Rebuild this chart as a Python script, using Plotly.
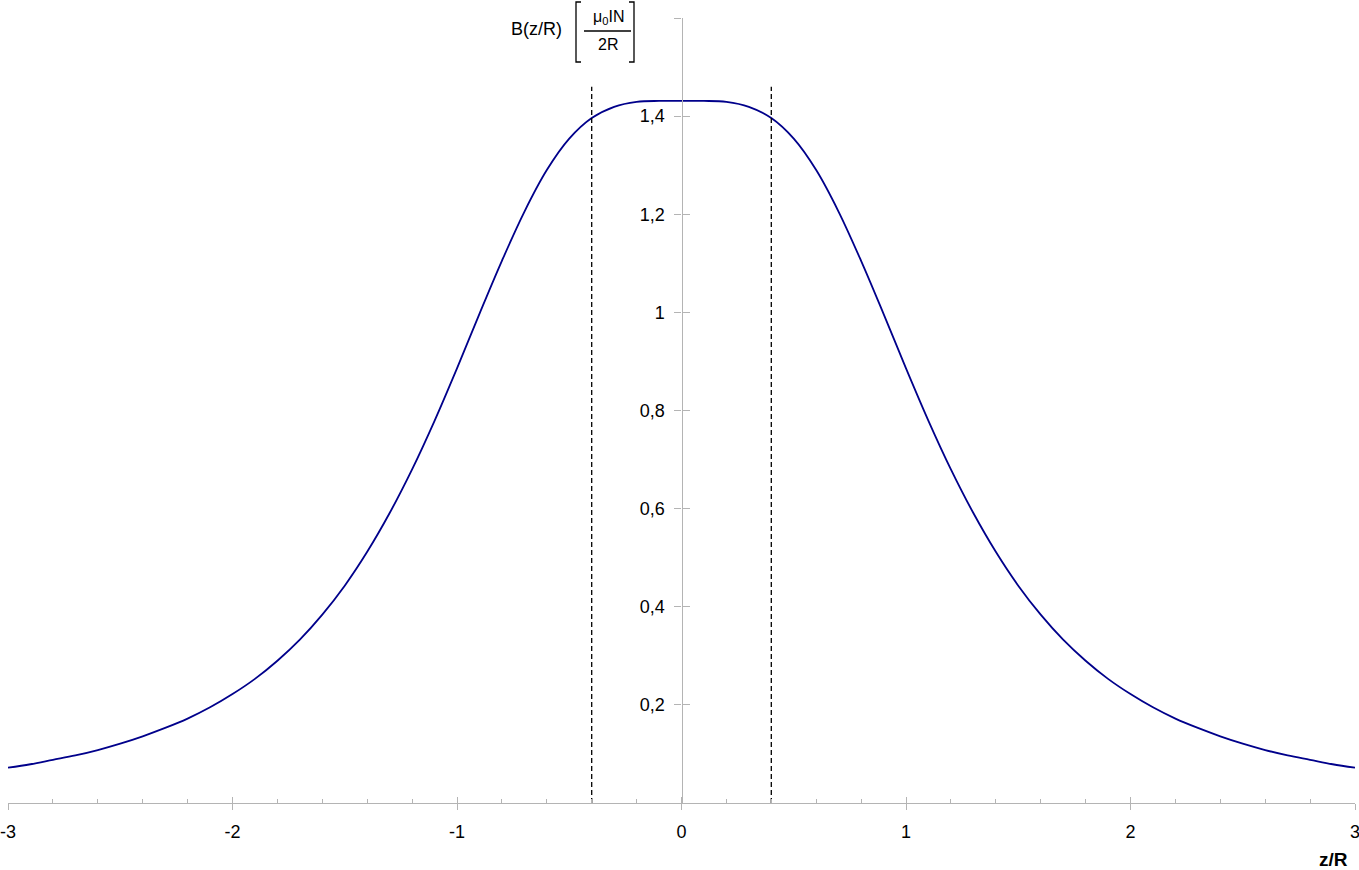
import plotly.graph_objects as go

# Data
z_vals = [round(-3 + 0.1 * i, 1) for i in range(61)]
b_vals = [
    0.072, 0.079, 0.088, 0.097, 0.108, 0.121, 0.136, 0.153, 0.172, 0.195,
    0.222, 0.253, 0.290, 0.333, 0.384, 0.443, 0.512, 0.591, 0.680, 0.779,
    0.886, 0.997, 1.105, 1.205, 1.290, 1.354, 1.396, 1.419, 1.429, 1.431,
    1.431,
    1.431, 1.429, 1.419, 1.396, 1.354, 1.290, 1.205, 1.105, 0.997, 0.886,
    0.779, 0.680, 0.591, 0.512, 0.443, 0.384, 0.333, 0.290, 0.253, 0.222,
    0.195, 0.172, 0.153, 0.136, 0.121, 0.108, 0.097, 0.088, 0.079, 0.072,
]
coil_positions = [-0.4, 0.4]
dash_top = 1.46

x_ticks = [-3, -2, -1, 0, 1, 2, 3]
x_ticktext = ["-3", "-2", "-1", "0", "1", "2", "3"]
y_ticks = [0.2, 0.4, 0.6, 0.8, 1.0, 1.2, 1.4, 1.6]
y_ticktext = ["0,2", "0,4", "0,6", "0,8", "1", "1,2", "1,4", ""]

AXIS_GRAY = "#b4b4b4"
CURVE = "#00008b"
FONT = "Liberation Sans, Arial, sans-serif"

fig = go.Figure()

fig.add_trace(go.Scatter(
    x=z_vals, y=b_vals, mode="lines",
    line=dict(color=CURVE, width=1.8, shape="spline", smoothing=1.0),
    showlegend=False, hoverinfo="skip",
))

for zc in coil_positions:
    fig.add_trace(go.Scatter(
        x=[zc, zc], y=[0, dash_top], mode="lines",
        line=dict(color="black", width=1.3, dash="5px,3px"),
        showlegend=False, hoverinfo="skip",
    ))

# invisible trace to create overlay axes (for ticks crossing the axis lines)
fig.add_trace(go.Scatter(x=[0], y=[0], xaxis="x2", yaxis="y2", mode="markers",
                         marker=dict(opacity=0), showlegend=False, hoverinfo="skip"))

tickfont = dict(family=FONT, size=18, color="black")

fig.update_layout(
    template="none",
    width=1359, height=870,
    margin=dict(l=8, r=4, t=18, b=67, autoexpand=False),
    paper_bgcolor="white", plot_bgcolor="white",
    font=dict(family=FONT, color="black"),
    separators=",.",
    xaxis=dict(
        range=[-3, 3], tickvals=x_ticks, ticktext=x_ticktext,
        showline=True, linecolor=AXIS_GRAY, linewidth=1.3,
        ticks="outside", ticklen=6, tickcolor=AXIS_GRAY, tickwidth=1,
        showgrid=False, zeroline=False, tickfont=tickfont,
        ticklabelstandoff=6, ticklabeloverflow="allow", automargin=False,
    ),
    xaxis2=dict(
        range=[-3, 3], overlaying="x", anchor="y", side="bottom",
        tickvals=x_ticks, showticklabels=False,
        ticks="inside", ticklen=6, tickcolor=AXIS_GRAY, tickwidth=1,
        minor=dict(dtick=0.2, tick0=0, ticks="inside", ticklen=4,
                   tickcolor=AXIS_GRAY, tickwidth=1, showgrid=False),
        showline=False, showgrid=False, zeroline=False, automargin=False,
    ),
    yaxis=dict(
        range=[0, 1.6], tickvals=y_ticks, ticktext=y_ticktext,
        anchor="free", position=0.5, side="left",
        showline=True, linecolor=AXIS_GRAY, linewidth=1.3,
        ticks="outside", ticklen=7, tickcolor=AXIS_GRAY, tickwidth=1,
        showgrid=False, zeroline=False, tickfont=tickfont,
        ticklabelstandoff=6, automargin=False,
    ),
    yaxis2=dict(
        range=[0, 1.6], overlaying="y", anchor="free", position=0.5, side="left",
        tickvals=y_ticks, showticklabels=False,
        ticks="inside", ticklen=7, tickcolor=AXIS_GRAY, tickwidth=1,
        showline=False, showgrid=False, zeroline=False, automargin=False,
    ),
)

# helpers: pixel -> paper
def px(xpix):
    return (xpix - 8) / 1347.0

def py(ypix):
    return (803 - ypix) / 785.0

annotations = [
    dict(text="B(z/R)", x=px(536), y=py(29), font=dict(family=FONT, size=18, color="black")),
    dict(text="μ<sub>0</sub>IN", x=px(608), y=py(17), font=dict(family=FONT, size=16, color="black")),
    dict(text="2R", x=px(608), y=py(45), font=dict(family=FONT, size=16, color="black")),
    dict(text="<b>z/R</b>", x=px(1333), y=py(859), font=dict(family=FONT, size=19, color="black")),
]
for a in annotations:
    a.update(xref="paper", yref="paper", showarrow=False,
             xanchor="center", yanchor="middle")
fig.update_layout(annotations=annotations)

line_style = dict(color="black", width=1.3)
shapes = [
    # fraction bar
    dict(type="line", x0=px(584), x1=px(631), y0=py(31), y1=py(31), line=line_style),
    # left bracket
    dict(type="path", path=f"M {px(581)},{py(2)} L {px(576)},{py(2)} L {px(576)},{py(62)} L {px(581)},{py(62)}",
         line=line_style),
    # right bracket
    dict(type="path", path=f"M {px(629)},{py(2)} L {px(634)},{py(2)} L {px(634)},{py(62)} L {px(629)},{py(62)}",
         line=line_style),
]
for s in shapes:
    s.update(xref="paper", yref="paper")
fig.update_layout(shapes=shapes)

fig.write_html("out.html", config={"displayModeBar": False},
               post_script="document.body.style.margin='0';")
